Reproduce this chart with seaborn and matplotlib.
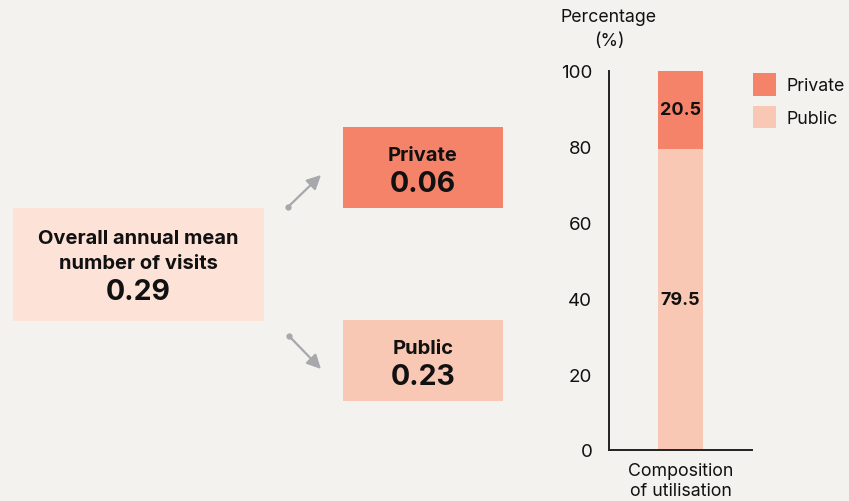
import matplotlib
matplotlib.use("Agg")
import matplotlib.pyplot as plt
from matplotlib.patches import Rectangle, Patch
import seaborn as sns
import pandas as pd

# ---- data ----
category = ["Composition\nof utilisation"]
public_pct = [79.5]
private_pct = [20.5]
overall_mean = 0.29
private_mean = 0.06
public_mean = 0.23
y_ticks = [0, 20, 40, 60, 80, 100]

# ---- colours ----
BG = "#F4F2EE"
PRIVATE = "#F5836A"
PUBLIC = "#F9C8B4"
OVERALL = "#FDE2D8"
ARROW = "#A7A8AB"
INK = "#111111"

sns.set_theme(style="white")
plt.rcParams["font.family"] = ["Inter", "DejaVu Sans"]

W, H = 849, 502
fig = plt.figure(figsize=(W / 100, H / 100), dpi=100, facecolor=BG)

# Overlay in pixel coordinates for the flow diagram
ov = fig.add_axes([0, 0, 1, 1])
ov.set_xlim(0, W)
ov.set_ylim(H, 0)
ov.axis("off")
ov.set_facecolor("none")

def box(x0, y0, x1, y1, color):
    ov.add_patch(Rectangle((x0, y0), x1 - x0, y1 - y0, facecolor=color,
                           edgecolor="none"))

box(13, 209, 264, 322, OVERALL)
box(343, 128, 503, 209, PRIVATE)
box(343, 321, 503, 402, PUBLIC)

LBL = 14.5
NUM = 20.5
ov.text(138.5, 239, "Overall annual mean", ha="center", va="center",
        fontsize=LBL, fontweight="bold", color=INK)
ov.text(138.5, 264, "number of visits", ha="center", va="center",
        fontsize=LBL, fontweight="bold", color=INK)
ov.text(138.5, 293, f"{overall_mean:.2f}", ha="center", va="center",
        fontsize=NUM, fontweight="bold", color=INK)

ov.text(423, 156, "Private", ha="center", va="center",
        fontsize=LBL, fontweight="bold", color=INK)
ov.text(423, 185, f"{private_mean:.2f}", ha="center", va="center",
        fontsize=NUM, fontweight="bold", color=INK)
ov.text(423, 349, "Public", ha="center", va="center",
        fontsize=LBL, fontweight="bold", color=INK)
ov.text(423, 378, f"{public_mean:.2f}", ha="center", va="center",
        fontsize=NUM, fontweight="bold", color=INK)

# Arrows from the overall box to each sector
for (xs, ys), (xe, ye) in [((288, 208), (321, 176)), ((289, 337), (321, 370))]:
    ov.annotate("", xy=(xe, ye), xytext=(xs, ys),
                arrowprops=dict(arrowstyle="-|>,head_length=0.7,head_width=0.35",
                                color=ARROW, lw=1.6, shrinkA=0, shrinkB=0))
    ov.plot([xs], [ys], marker="o", markersize=3.5, color=ARROW)

ov.text(609, 18, "Percentage", ha="center", va="center", fontsize=12.8, color=INK)
ov.text(609, 41, "(%)", ha="center", va="center", fontsize=12.8, color=INK)

# ---- stacked composition bar ----
ax = fig.add_axes([609 / W, 1 - 451 / H, (752 - 609) / W, (451 - 72) / H])
ax.set_facecolor("none")
df = pd.DataFrame({"category": category, "Public": public_pct, "Private": private_pct})
df["Total"] = df["Public"] + df["Private"]

sns.barplot(data=df, x="category", y="Total", color=PRIVATE, width=0.32,
            saturation=1, linewidth=0, ax=ax)
sns.barplot(data=df, x="category", y="Public", color=PUBLIC, width=0.32,
            saturation=1, linewidth=0, ax=ax)

for i, row in df.iterrows():
    ax.text(i, row["Public"] / 2, f"{row['Public']:.1f}", ha="center", va="center",
            fontsize=13, fontweight="bold", color=INK)
    ax.text(i, row["Public"] + row["Private"] / 2, f"{row['Private']:.1f}",
            ha="center", va="center", fontsize=13, fontweight="bold", color=INK)

ax.set_ylim(0, 100)
ax.set_xlim(-0.5, 0.5)
ax.set_yticks(y_ticks)
ax.set_yticklabels([str(t) for t in y_ticks], fontsize=13.5, color=INK)
ax.tick_params(axis="x", labelsize=12.8, colors=INK, length=0, pad=9)
ax.tick_params(axis="y", length=0, pad=12)
ax.set_xlabel("")
ax.set_ylabel("")
for side in ["top", "right"]:
    ax.spines[side].set_visible(False)
for side in ["left", "bottom"]:
    ax.spines[side].set_color("#222222")
    ax.spines[side].set_linewidth(1.4)
for lbl in ax.get_xticklabels():
    lbl.set_linespacing(1.2)

handles = [Patch(facecolor=PRIVATE, edgecolor="none", label="Private"),
           Patch(facecolor=PUBLIC, edgecolor="none", label="Public")]
fig.legend(handles=handles, loc="upper left",
           bbox_to_anchor=(753 / W, 1 - 74 / H), frameon=False, borderpad=0,
           borderaxespad=0, fontsize=12.8, handlelength=1.3, handleheight=1.6,
           labelspacing=0.55, handletextpad=0.6, labelcolor=INK)

fig.savefig("out.png", dpi=100, facecolor=BG)
